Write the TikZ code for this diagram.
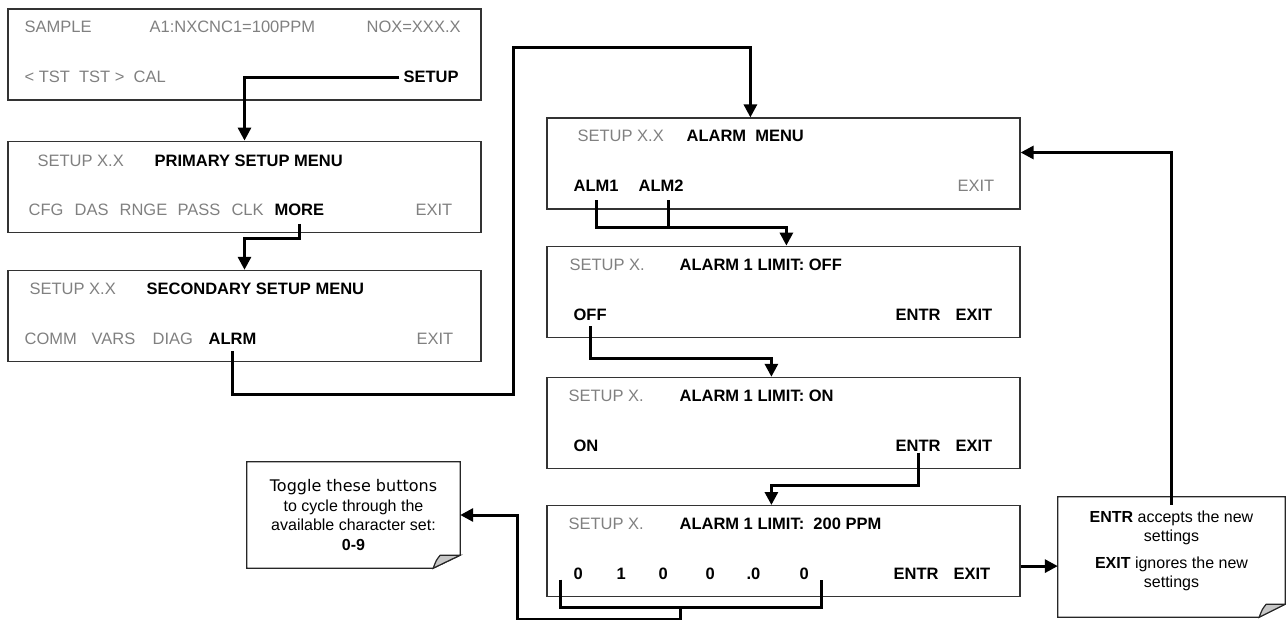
\documentclass[tikz,border=0pt]{standalone}
\usepackage{fontspec}
\setmainfont{Liberation Sans}
\newfontfamily\verdanafont{DejaVu Sans}
\usetikzlibrary{arrows.meta,positioning,calc}
\definecolor{dimgrey}{gray}{0.5}
\tikzset{
    screen/.style={
        rectangle,                % pantalla del instrumento
        draw=black!80,            % borde gris oscuro, no negro puro
        line width=1.2pt,
        minimum width=473pt,      % todas las pantallas igual de anchas
        minimum height=91pt,
        inner sep=0pt
    },
    dimtext/.style={
        anchor=base west,         % se coloca por la linea base
        inner sep=0pt,
        font=\fontsize{16.5pt}{19.5pt}\selectfont,
        text=dimgrey              % teclas inactivas en gris
    },
    keytext/.style={
        anchor=base west,
        inner sep=0pt,
        font=\fontsize{16.5pt}{19.5pt}\selectfont\bfseries % teclas que se pulsan
    },
    notebox/.style={
        rectangle,                % nota con esquina doblada (el borde se dibuja aparte)
        align=center,
        inner sep=0pt,
        font=\fontsize{16pt}{19.5pt}\selectfont
    },
    noteline/.style={draw=black!85, line width=1.2pt},
    notefold/.style={draw=black!85, fill=black!22, line width=1.2pt},
    flow/.style={line width=3pt, -{Triangle[length=13pt,width=13pt]}},
    link/.style={line width=3pt}
}
\begin{document}
\begin{tikzpicture}[x=1pt,y=-1pt]
\useasboundingbox (0,0) rectangle (1286,620);

\node[screen] (s1) at (244.5,54.5) {};
\node[screen, below=40pt of s1] (s2) {};
\node[screen, below=37pt of s2] (s3) {};
\node[screen] (a1) at (783.5,163.5) {};
\node[screen, below=36pt of a1] (b1) {};
\node[screen, below=39pt of b1] (c1) {};
\node[screen, below=36pt of c1] (d1) {};

\node[dimtext] (s1top) at ($(s1.north west)+(17,24.5)$) {\makebox[125pt][l]{SAMPLE}\makebox[217pt][l]{A1:NXCNC1=100PPM}NOX=XXX.X};
\node[dimtext] (s1keys) at ($(s1.north west)+(17,74.5)$) {<\ TST\ \ TST\ >\ \ CAL};
\node[keytext] (setupkey) at ($(s1.north west)+(396,74.5)$) {SETUP};

\node[dimtext] (s2top) at ($(s2.north west)+(30,26)$) {\makebox[117pt][l]{SETUP X.X}\textcolor{black}{\bfseries PRIMARY SETUP MENU}};
\node[dimtext] (s2keys) at ($(s2.north west)+(21,75)$) {\makebox[46pt][l]{CFG}\makebox[45pt][l]{DAS}\makebox[58pt][l]{RNGE}\makebox[54pt][l]{PASS}CLK};
\node[keytext] (more) at ($(s2.north west)+(267,75)$) {MORE};
\node[dimtext] (s2exit) at ($(s2.north west)+(408,75)$) {EXIT};

\node[dimtext] (s3top) at ($(s3.north west)+(22,24.5)$) {\makebox[117pt][l]{SETUP X.X}\textcolor{black}{\bfseries SECONDARY SETUP MENU}};
\node[dimtext] (s3keys) at ($(s3.north west)+(17,74.5)$) {\makebox[67pt][l]{COMM}\makebox[61pt][l]{VARS}DIAG};
\node[keytext] (alrm) at ($(s3.north west)+(201,74.5)$) {ALRM};
\node[dimtext] (s3exit) at ($(s3.north west)+(409,74.5)$) {EXIT};

\node[dimtext] (a1top) at ($(a1.north west)+(31,24.5)$) {\makebox[109pt][l]{SETUP X.X}\textcolor{black}{\bfseries ALARM\ \ MENU}};
\node[keytext] (alm1) at ($(a1.north west)+(27,74.5)$) {ALM1};
\node[keytext] (alm2) at ($(a1.north west)+(92,74.5)$) {ALM2};
\node[dimtext] (a1exit) at ($(a1.north west)+(411,74.5)$) {EXIT};

\node[dimtext] (b1top) at ($(b1.north west)+(23,24.5)$) {\makebox[110pt][l]{SETUP X.}\textcolor{black}{\bfseries ALARM 1 LIMIT: OFF}};
\node[keytext] (off) at ($(b1.north west)+(27,74.5)$) {OFF};
\node[keytext] (b1keys) at ($(b1.north west)+(349,74.5)$) {\makebox[60pt][l]{ENTR}EXIT};

\node[dimtext] (c1top) at ($(c1.north west)+(22,24.5)$) {\makebox[111pt][l]{SETUP X.}\textcolor{black}{\bfseries ALARM 1 LIMIT: ON}};
\node[keytext] (on) at ($(c1.north west)+(27,74.5)$) {ON};
\node[keytext] (entr) at ($(c1.north west)+(349,74.5)$) {ENTR};
\node[keytext] (c1exit) at ($(c1.north west)+(409,74.5)$) {EXIT};

\node[dimtext] (d1top) at ($(d1.north west)+(22,24.5)$) {\makebox[111pt][l]{SETUP X.}\textcolor{black}{\bfseries ALARM 1 LIMIT:\ \ 200 PPM}};
\node[keytext] (digits) at ($(d1.north west)+(27,74.5)$) {\makebox[43pt][l]{0}\makebox[42pt][l]{1}\makebox[47pt][l]{0}\makebox[41pt][l]{0}\makebox[53pt][l]{.0}0};
\node[keytext] (d1keys) at ($(d1.north west)+(347,74.5)$) {\makebox[60pt][l]{ENTR}EXIT};

\node[notebox, minimum width=213pt, minimum height=106pt] (t1) at (353.5,515) {{\verdanafont Toggle these buttons}\\to cycle through the\\available character set:\\\textbf{0-9}};
\node[notebox, minimum width=227pt, minimum height=120pt] (n1) at (1171.5,557) {\textbf{ENTR} accepts the new\\settings\\[7pt]\textbf{EXIT} ignores the new\\settings\\[-4pt]\mbox{}};

\draw[noteline] (t1.south west) -- (t1.north west) -- (t1.north east) -- ([yshift=13pt]t1.south east) -- ([xshift=-27pt]t1.south east) -- cycle;
\draw[notefold] ([xshift=-27pt]t1.south east) .. controls ([xshift=-24pt,yshift=8pt]t1.south east) .. ([xshift=-20pt,yshift=13pt]t1.south east) -- ([yshift=13pt]t1.south east) -- cycle;
\draw[noteline] (n1.south west) -- (n1.north west) -- (n1.north east) -- ([yshift=13pt]n1.south east) -- ([xshift=-26pt]n1.south east) -- cycle;
\draw[notefold] ([xshift=-26pt]n1.south east) .. controls ([xshift=-23pt,yshift=8pt]n1.south east) .. ([xshift=-19pt,yshift=13pt]n1.south east) -- ([yshift=13pt]n1.south east) -- cycle;

\draw[flow] ([xshift=-4pt]setupkey.west) -| (s2.north);
\draw[flow] ([yshift=-8pt]more.south) -- ++(0,15) -| (s3.north);
\draw[flow] ([yshift=-7pt]alrm.south) |- (513,395) |- ($(a1.north west)+(204,-70)$) -- ($(a1.north west)+(204,0)$);
\draw[flow] ([yshift=-8pt]alm1.south) |- ($(b1.north west)+(240,-18)$) -- ($(b1.north west)+(240,0)$);
\draw[link] ([xshift=7pt,yshift=-8pt]alm2.south) -- ++(0,27);
\draw[flow] ([yshift=-6pt]off.south) |- ($(c1.north west)+(225,-18)$) -- ($(c1.north west)+(225,0)$);
\draw[flow] ([yshift=-1pt]entr.south) |- ($(d1.north west)+(225,-20)$) -- ($(d1.north west)+(225,0)$);
\draw[link] ([xshift=-13pt]digits.base west) -- ++(0,28) -| ([xshift=13pt]digits.base east);
\draw[flow] ($(digits.base west)+(107,28)$) -- ++(0,12) -| ($(t1.east)+(57,0)$) -- (t1.east);
\coordinate (exitpt) at ([yshift=-15pt]d1.east);
\draw[flow] (exitpt) -- (exitpt -| n1.west);
\coordinate (backpt) at ([yshift=11pt]a1.east);
\draw[flow] ([yshift=-8pt]n1.north) |- (backpt);
\end{tikzpicture}
\end{document}
